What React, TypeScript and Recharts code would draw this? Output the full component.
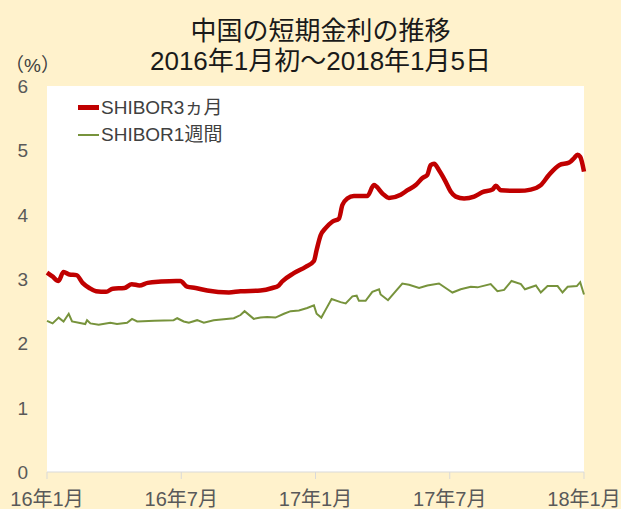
import { CartesianGrid, Legend, Line, LineChart, XAxis, YAxis } from "recharts";

// x = months since 2016-01
const months3m = [
  0, 0.24, 0.51, 0.74, 1.0, 1.32, 1.59, 1.89, 2.19, 2.64, 2.94, 3.46, 3.79, 4.13, 4.5, 5.1, 5.77, 5.96,
  6.26, 6.64, 7.16, 8.13, 8.65, 9.54, 10.07, 10.36, 10.51, 11.03, 11.56, 11.93, 12.05, 12.23, 12.45,
  12.75, 13.05, 13.2, 13.42, 13.72, 14.32, 14.61, 14.99, 15.28, 15.81, 16.11, 16.48, 16.78, 17.0,
  17.15, 17.3, 17.52, 17.82, 18.04, 18.27, 18.64, 19.09, 19.46, 19.91, 20.06, 20.28, 21.1, 21.62,
  22.07, 22.44, 22.89, 23.34, 23.56, 23.71, 23.83, 24.0,
];
const shibor3m = [
  3.1, 3.04, 2.97, 3.11, 3.07, 3.06, 2.94, 2.86, 2.81, 2.8, 2.85, 2.86, 2.92, 2.9, 2.94, 2.96, 2.97, 2.97,
  2.88, 2.86, 2.82, 2.79, 2.81, 2.82, 2.86, 2.9, 2.96, 3.09, 3.19, 3.28, 3.45, 3.68, 3.79,
  3.89, 3.94, 4.15, 4.25, 4.29, 4.29, 4.46, 4.33, 4.26, 4.31, 4.38, 4.46, 4.57, 4.62,
  4.77, 4.79, 4.69, 4.51, 4.36, 4.28, 4.25, 4.28, 4.35, 4.39, 4.45, 4.38, 4.37, 4.39,
  4.46, 4.62, 4.77, 4.81, 4.88, 4.93, 4.9, 4.67,
];

const months1w = [
  0, 0.25, 0.52, 0.74, 0.97, 1.12, 1.71, 1.79, 1.94, 2.31, 2.83, 3.13, 3.58, 3.8, 4.03, 4.8, 5.66, 5.82,
  6.11, 6.34, 6.71, 7.01, 7.45, 8.35, 8.65, 8.83, 9.24, 9.54, 9.84, 10.21, 10.59, 10.89, 11.26, 11.63,
  11.93, 12.05, 12.26, 12.45, 12.72, 13.12, 13.35, 13.65, 13.84, 13.94, 14.24, 14.54, 14.84, 14.91,
  15.24, 15.51, 15.88, 16.18, 16.63, 17.0, 17.52, 17.9, 18.12, 18.49, 18.94, 19.24, 19.83, 20.13,
  20.43, 20.76, 21.18, 21.36, 21.85, 22.07, 22.37, 22.82, 23.04, 23.27, 23.68, 23.83, 24.0,
];
const shibor1w = [
  2.35, 2.31, 2.4, 2.34, 2.46, 2.34, 2.3, 2.36, 2.31, 2.29, 2.32, 2.3, 2.32, 2.38, 2.34, 2.35, 2.36, 2.39,
  2.34, 2.32, 2.36, 2.32, 2.36, 2.39, 2.44, 2.5, 2.38, 2.4, 2.41, 2.4, 2.46, 2.5, 2.51, 2.55,
  2.59, 2.46, 2.4, 2.52, 2.69, 2.64, 2.62, 2.73, 2.74, 2.66, 2.66, 2.8, 2.84, 2.76,
  2.67, 2.78, 2.93, 2.91, 2.86, 2.9, 2.93, 2.84, 2.79, 2.84, 2.88, 2.87, 2.92, 2.81,
  2.83, 2.97, 2.92, 2.84, 2.9, 2.79, 2.89, 2.89, 2.79, 2.88, 2.89, 2.95, 2.76,
];

const xTicks = [0, 6, 12, 18, 24];
const xTickLabels = ["16年1月", "16年7月", "17年1月", "17年7月", "18年1月"];
const yTicks = [0, 1, 2, 3, 4, 5, 6];

const series = [
  { name: "SHIBOR3ヵ月", color: "#C00000", width: 4.5 },
  { name: "SHIBOR1週間", color: "#77933C", width: 2 },
];

const FONT = "'Liberation Sans', 'Noto Sans CJK JP', sans-serif";

const data3m = months3m.map((m, i) => ({ m, v: shibor3m[i] }));
const data1w = months1w.map((m, i) => ({ m, v: shibor1w[i] }));

function XTick({ x, payload }: any) {
  const idx = xTicks.indexOf(payload.value);
  return (
    <text x={x} y={506} textAnchor="middle" fontSize={20} fill="#595959" fontFamily={FONT}>
      {xTickLabels[idx]}
    </text>
  );
}

function YTick({ y, payload }: any) {
  return (
    <text x={28} y={y + 7} textAnchor="end" fontSize={19} fill="#595959" fontFamily={FONT}>
      {payload.value}
    </text>
  );
}

function LegendBox() {
  return (
    <div style={{ fontFamily: FONT, fontSize: 19, color: "#404040", lineHeight: "27px", textAlign: "left" }}>
      {series.map((s) => (
        <div key={s.name} style={{ display: "flex", alignItems: "center" }}>
          <span
            style={{ display: "inline-block", width: 21, height: s.width, background: s.color, marginRight: 2 }}
          />
          {s.name}
        </div>
      ))}
    </div>
  );
}

export default function App() {
  return (
    <div
      style={{
        position: "absolute",
        left: 0,
        top: 0,
        width: 621,
        height: 509,
        background: "#FFF2CC",
        fontFamily: FONT,
        overflow: "hidden",
      }}
    >
      <div
        style={{
          position: "absolute",
          left: 0,
          width: 641,
          top: 16,
          textAlign: "center",
          fontSize: 26,
          lineHeight: "30px",
          color: "#1a1a1a",
        }}
      >
        <div>中国の短期金利の推移</div>
        <div>2016年1月初～2018年1月5日</div>
      </div>
      <div style={{ position: "absolute", left: 5, top: 50, fontSize: 19, color: "#404040" }}>（%）</div>
      <LineChart width={621} height={509} margin={{ top: 86, right: 37, left: 0, bottom: 0 }}>
        <CartesianGrid fill="#ffffff" horizontal={false} vertical={false} />
        <XAxis
          type="number"
          dataKey="m"
          domain={[0, 24]}
          ticks={xTicks}
          interval={0}
          height={37}
          tickSize={7}
          axisLine={{ stroke: "#d9d9d9" }}
          tickLine={{ stroke: "#d9d9d9" }}
          tick={<XTick />}
        />
        <YAxis
          type="number"
          domain={[0, 6]}
          ticks={yTicks}
          interval={0}
          width={47}
          axisLine={false}
          tickLine={false}
          tick={<YTick />}
        />
        <Legend
          verticalAlign="middle"
          align="center"
          layout="horizontal"
          wrapperStyle={{ top: 94, left: 78, width: 200 }}
          content={() => <LegendBox />}
        />
        <Line
          data={data1w}
          dataKey="v"
          name={series[1].name}
          stroke={series[1].color}
          strokeWidth={series[1].width}
          type="linear"
          dot={false}
          isAnimationActive={false}
        />
        <Line
          data={data3m}
          dataKey="v"
          name={series[0].name}
          stroke={series[0].color}
          strokeWidth={series[0].width}
          type="monotone"
          dot={false}
          isAnimationActive={false}
        />
      </LineChart>
    </div>
  );
}
